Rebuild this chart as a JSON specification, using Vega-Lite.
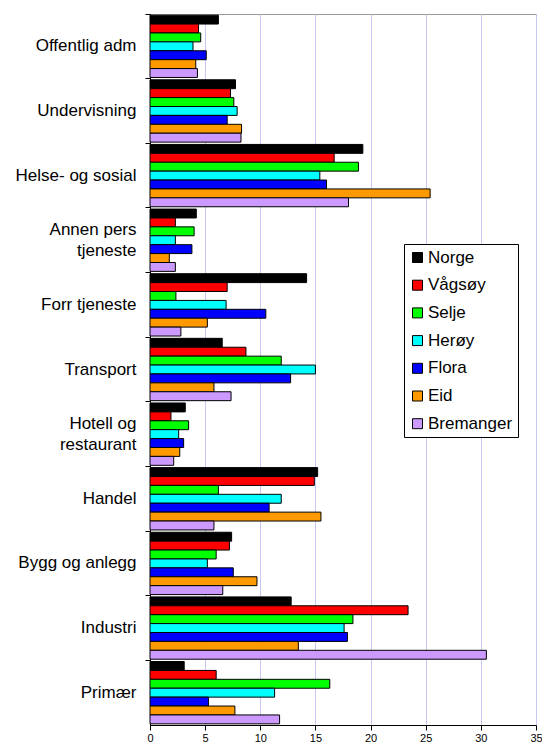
{
  "$schema": "https://vega.github.io/schema/vega-lite/v6.json",
  "width": 386,
  "height": 711,
  "autosize": {"type": "none"},
  "padding": {"left": 150, "top": 14, "right": 6, "bottom": 22},
  "background": "white",
  "data": {
    "values": [
      {"bransje": "Offentlig adm", "sted": "Norge", "andel": 6.2},
      {"bransje": "Offentlig adm", "sted": "Vågsøy", "andel": 4.4},
      {"bransje": "Offentlig adm", "sted": "Selje", "andel": 4.6},
      {"bransje": "Offentlig adm", "sted": "Herøy", "andel": 3.9},
      {"bransje": "Offentlig adm", "sted": "Flora", "andel": 5.1},
      {"bransje": "Offentlig adm", "sted": "Eid", "andel": 4.15},
      {"bransje": "Offentlig adm", "sted": "Bremanger", "andel": 4.3},
      {"bransje": "Undervisning", "sted": "Norge", "andel": 7.75},
      {"bransje": "Undervisning", "sted": "Vågsøy", "andel": 7.3},
      {"bransje": "Undervisning", "sted": "Selje", "andel": 7.6},
      {"bransje": "Undervisning", "sted": "Herøy", "andel": 7.9},
      {"bransje": "Undervisning", "sted": "Flora", "andel": 7.0},
      {"bransje": "Undervisning", "sted": "Eid", "andel": 8.3},
      {"bransje": "Undervisning", "sted": "Bremanger", "andel": 8.25},
      {"bransje": "Helse- og sosial", "sted": "Norge", "andel": 19.3},
      {"bransje": "Helse- og sosial", "sted": "Vågsøy", "andel": 16.7},
      {"bransje": "Helse- og sosial", "sted": "Selje", "andel": 18.9},
      {"bransje": "Helse- og sosial", "sted": "Herøy", "andel": 15.4},
      {"bransje": "Helse- og sosial", "sted": "Flora", "andel": 16.0},
      {"bransje": "Helse- og sosial", "sted": "Eid", "andel": 25.4},
      {"bransje": "Helse- og sosial", "sted": "Bremanger", "andel": 18.0},
      {"bransje": "Annen pers tjeneste", "sted": "Norge", "andel": 4.2},
      {"bransje": "Annen pers tjeneste", "sted": "Vågsøy", "andel": 2.3},
      {"bransje": "Annen pers tjeneste", "sted": "Selje", "andel": 4.0},
      {"bransje": "Annen pers tjeneste", "sted": "Herøy", "andel": 2.3},
      {"bransje": "Annen pers tjeneste", "sted": "Flora", "andel": 3.8},
      {"bransje": "Annen pers tjeneste", "sted": "Eid", "andel": 1.75},
      {"bransje": "Annen pers tjeneste", "sted": "Bremanger", "andel": 2.3},
      {"bransje": "Forr tjeneste", "sted": "Norge", "andel": 14.2},
      {"bransje": "Forr tjeneste", "sted": "Vågsøy", "andel": 7.0},
      {"bransje": "Forr tjeneste", "sted": "Selje", "andel": 2.35},
      {"bransje": "Forr tjeneste", "sted": "Herøy", "andel": 6.9},
      {"bransje": "Forr tjeneste", "sted": "Flora", "andel": 10.5},
      {"bransje": "Forr tjeneste", "sted": "Eid", "andel": 5.2},
      {"bransje": "Forr tjeneste", "sted": "Bremanger", "andel": 2.8},
      {"bransje": "Transport", "sted": "Norge", "andel": 6.55},
      {"bransje": "Transport", "sted": "Vågsøy", "andel": 8.7},
      {"bransje": "Transport", "sted": "Selje", "andel": 11.9},
      {"bransje": "Transport", "sted": "Herøy", "andel": 15.0},
      {"bransje": "Transport", "sted": "Flora", "andel": 12.75},
      {"bransje": "Transport", "sted": "Eid", "andel": 5.8},
      {"bransje": "Transport", "sted": "Bremanger", "andel": 7.35},
      {"bransje": "Hotell og restaurant", "sted": "Norge", "andel": 3.2},
      {"bransje": "Hotell og restaurant", "sted": "Vågsøy", "andel": 1.9},
      {"bransje": "Hotell og restaurant", "sted": "Selje", "andel": 3.5},
      {"bransje": "Hotell og restaurant", "sted": "Herøy", "andel": 2.6},
      {"bransje": "Hotell og restaurant", "sted": "Flora", "andel": 3.05},
      {"bransje": "Hotell og restaurant", "sted": "Eid", "andel": 2.7},
      {"bransje": "Hotell og restaurant", "sted": "Bremanger", "andel": 2.15},
      {"bransje": "Handel", "sted": "Norge", "andel": 15.2},
      {"bransje": "Handel", "sted": "Vågsøy", "andel": 14.9},
      {"bransje": "Handel", "sted": "Selje", "andel": 6.2},
      {"bransje": "Handel", "sted": "Herøy", "andel": 11.9},
      {"bransje": "Handel", "sted": "Flora", "andel": 10.8},
      {"bransje": "Handel", "sted": "Eid", "andel": 15.5},
      {"bransje": "Handel", "sted": "Bremanger", "andel": 5.8},
      {"bransje": "Bygg og anlegg", "sted": "Norge", "andel": 7.4},
      {"bransje": "Bygg og anlegg", "sted": "Vågsøy", "andel": 7.2},
      {"bransje": "Bygg og anlegg", "sted": "Selje", "andel": 6.0},
      {"bransje": "Bygg og anlegg", "sted": "Herøy", "andel": 5.2},
      {"bransje": "Bygg og anlegg", "sted": "Flora", "andel": 7.55},
      {"bransje": "Bygg og anlegg", "sted": "Eid", "andel": 9.7},
      {"bransje": "Bygg og anlegg", "sted": "Bremanger", "andel": 6.6},
      {"bransje": "Industri", "sted": "Norge", "andel": 12.8},
      {"bransje": "Industri", "sted": "Vågsøy", "andel": 23.4},
      {"bransje": "Industri", "sted": "Selje", "andel": 18.4},
      {"bransje": "Industri", "sted": "Herøy", "andel": 17.6},
      {"bransje": "Industri", "sted": "Flora", "andel": 17.9},
      {"bransje": "Industri", "sted": "Eid", "andel": 13.45},
      {"bransje": "Industri", "sted": "Bremanger", "andel": 30.5},
      {"bransje": "Primær", "sted": "Norge", "andel": 3.1},
      {"bransje": "Primær", "sted": "Vågsøy", "andel": 6.0},
      {"bransje": "Primær", "sted": "Selje", "andel": 16.3},
      {"bransje": "Primær", "sted": "Herøy", "andel": 11.3},
      {"bransje": "Primær", "sted": "Flora", "andel": 5.3},
      {"bransje": "Primær", "sted": "Eid", "andel": 7.7},
      {"bransje": "Primær", "sted": "Bremanger", "andel": 11.75}
    ]
  },
  "mark": {"type": "bar", "stroke": "black", "strokeWidth": 1, "opacity": 1},
  "encoding": {
    "y": {
      "field": "bransje",
      "type": "nominal",
      "sort": ["Offentlig adm", "Undervisning", "Helse- og sosial", "Annen pers tjeneste", "Forr tjeneste", "Transport", "Hotell og restaurant", "Handel", "Bygg og anlegg", "Industri", "Primær"],
      "scale": {"paddingInner": 0, "paddingOuter": 0},
      "axis": {
        "title": null,
        "bandPosition": 0,
        "labelExpr": "datum.value == 'Annen pers tjeneste' ? ['Annen pers', 'tjeneste'] : datum.value == 'Hotell og restaurant' ? ['Hotell og', 'restaurant'] : datum.value",
        "labelOffset": {"condition": {"test": "datum.value == 'Annen pers tjeneste' || datum.value == 'Hotell og restaurant'", "value": -10.5}, "value": 0},
        "labelLineHeight": 21,
        "labelFontSize": 17,
        "labelPadding": 9,
        "labelColor": "black",
        "tickSize": 5,
        "tickColor": "black",
        "domainColor": "black",
        "grid": false
      }
    },
    "yOffset": {
      "field": "sted",
      "type": "nominal",
      "sort": ["Norge", "Vågsøy", "Selje", "Herøy", "Flora", "Eid", "Bremanger"],
      "scale": {"paddingInner": 0, "paddingOuter": 0.13}
    },
    "x": {
      "field": "andel",
      "type": "quantitative",
      "scale": {"domain": [0, 35], "nice": false},
      "axis": {
        "title": null,
        "values": [0, 5, 10, 15, 20, 25, 30, 35],
        "labelFontSize": 11,
        "labelColor": "black",
        "tickSize": 5,
        "tickColor": "black",
        "domainColor": "black",
        "grid": true,
        "gridColor": "#c8c8f4",
        "gridWidth": 1,
        "gridOpacity": 1,
        "labelFlush": false
      }
    },
    "color": {
      "field": "sted",
      "type": "nominal",
      "scale": {
        "domain": ["Norge", "Vågsøy", "Selje", "Herøy", "Flora", "Eid", "Bremanger"],
        "range": ["#000000", "#ff0000", "#00ff00", "#00ffff", "#0000ff", "#ff9900", "#cc99ff"]
      },
      "legend": {
        "title": null,
        "orient": "none",
        "legendX": 254,
        "legendY": 230,
        "direction": "vertical",
        "strokeColor": "black",
        "fillColor": "white",
        "padding": 5,
        "symbolType": "square",
        "symbolSize": 100,
        "symbolStrokeColor": "black",
        "symbolStrokeWidth": 1,
        "symbolOpacity": 1,
        "labelFontSize": 17,
        "labelColor": "black",
        "labelOffset": 2,
        "rowPadding": 9.7
      }
    }
  },
  "config": {
    "font": "Liberation Sans",
    "view": {"stroke": "#999999", "strokeWidth": 1},
    "axis": {"labelFont": "Liberation Sans"},
    "legend": {"labelFont": "Liberation Sans"}
  }
}
